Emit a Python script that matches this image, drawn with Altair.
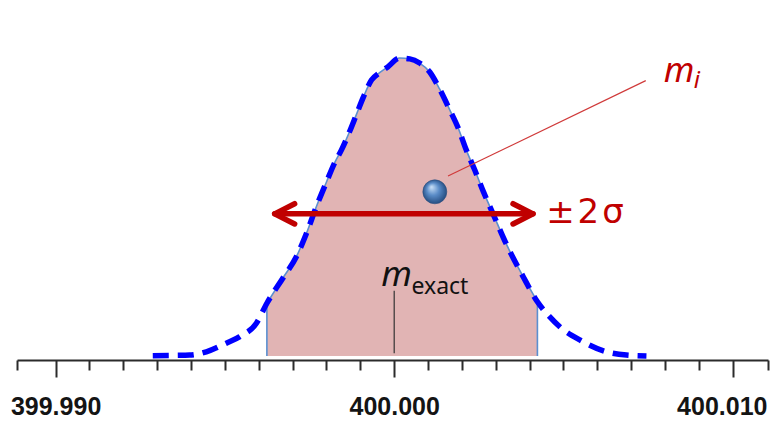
import altair as alt
import pandas as pd

# ---- mass axis (Da) ----
mass_domain = [399.98886, 400.01104]
tick_values = [399.98886,
               399.990, 399.991, 399.992, 399.993, 399.994, 399.995, 399.996,
               399.997, 399.998, 399.999, 400.000, 400.001, 400.002, 400.003,
               400.004, 400.005, 400.006, 400.007, 400.008, 400.009, 400.010,
               400.01104]

# ---- peak profile: mass vs relative intensity ----
curve_mass = [399.99287, 399.99352, 399.99396, 399.99445, 399.99504, 399.99544,
              399.99593, 399.99624, 399.99671, 399.99711, 399.99741, 399.99770,
              399.99800, 399.99824, 399.99844, 399.99869, 399.99888, 399.99908,
              399.99933, 399.99957, 399.99981, 400.00016, 400.00046, 400.00075,
              400.00105, 400.00134, 400.00164, 400.00189, 400.00213, 400.00238,
              400.00264, 400.00292, 400.00331, 400.00381, 400.00423, 400.00459,
              400.00489, 400.00548, 400.00627, 400.00686, 400.00745]
curve_int = [0.1, 0.2, 0.3, 1.4, 4.3, 6.5,
             11.0, 17.7, 26.1, 33.3, 41.2, 50.1,
             58.4, 64.8, 69.1, 75.5, 80.9, 86.6,
             92.6, 95.1, 97.0, 100.0, 99.7, 98.3,
             95.3, 89.6, 82.6, 76.5, 69.1, 62.4,
             55.0, 47.7, 37.6, 26.6, 18.2, 13.2,
             9.8, 5.4, 1.4, 0.3, 0.0]

# integration window (edges of the shaded region)
window_mass = [399.99624, 400.00423]
window_int = [17.7, 18.2]

# exact mass marker
exact_mass = 400.000
exact_int = [0.9, 21.9]

# measured mass m_i
mi_mass = 400.00120
mi_int = 55.1

# leader line from m_i to its label
leader_mass = [400.00159, 400.00743]
leader_int = [60.4, 92.4]

# ±2σ double arrow
arrow_mass = [399.99647, 400.00410]
arrow_int = 47.7
head_left_mass = [399.99706, 399.99647, 399.99706]
head_right_mass = [400.00351, 400.00410, 400.00351]
head_int = [51.1, 47.7, 44.3]

# annotation text
sigma_glyphs = ["±", "2", "σ"]
sigma_mass = [400.00491, 400.00573, 400.00646]
sigma_int = 44.6

RED = "#c00000"

is_major = ("abs(datum.value*1000 - round(datum.value*1000)) < 0.01 && "
            "round(datum.value*1000) % 10 == 0")

x_axis = alt.Axis(
    values=tick_values,
    labelExpr=f"({is_major}) ? format(datum.value, '.3f') : ''",
    tickSize={"condition": {"test": is_major, "value": 17}, "value": 10},
    labelOffset={"condition": {"test": "datum.value > 400.005", "value": -11}, "value": 0},
    labelFont="Liberation Sans",
    labelFontWeight="bold",
    labelFontSize=25,
    labelColor="#141414",
    labelPadding=17,
    labelOverlap=False,
    labelFlush=False,
    domainColor="#2b2b2b",
    domainWidth=2,
    tickColor="#2b2b2b",
    tickWidth=2,
    grid=False,
    title=None,
)
x_scale = alt.Scale(domain=mass_domain, nice=False, zero=False)
y_scale = alt.Scale(domain=[-1.342, 119.463], nice=False, zero=False)


def X(field="mass"):
    return alt.X(f"{field}:Q", scale=x_scale, axis=x_axis)


def Y(field="inten"):
    return alt.Y(f"{field}:Q", scale=y_scale, axis=None)


curve = pd.DataFrame({"mass": curve_mass, "inten": curve_int})
fill_df = curve[(curve.mass >= window_mass[0]) & (curve.mass <= window_mass[1])]

shade = alt.Chart(fill_df).mark_area(
    color="#e1b4b4", interpolate="monotone", opacity=1
).encode(x=X(), y=Y(), y2=alt.datum(0))

outline_top = alt.Chart(fill_df).mark_line(
    color="#5b8fd0", strokeWidth=1.6, interpolate="monotone"
).encode(x=X(), y=Y())

edges = alt.Chart(pd.DataFrame({"mass": window_mass, "top": window_int,
                                "base": [0, 0]})).mark_rule(
    color="#5b8fd0", strokeWidth=1.6
).encode(x=X(), y=Y("base"), y2="top:Q")

exact = alt.Chart(pd.DataFrame({"mass": [exact_mass], "lo": [exact_int[0]],
                                "hi": [exact_int[1]]})).mark_rule(
    color="#333333", strokeWidth=1.2
).encode(x=X(), y=Y("lo"), y2="hi:Q")

dashed = alt.Chart(curve).mark_line(
    color="#0000ff", strokeWidth=5.5, strokeDash=[16, 9], interpolate="monotone"
).encode(x=X(), y=Y())

leader = alt.Chart(pd.DataFrame({"mass": leader_mass, "inten": leader_int})).mark_line(
    color="#d03a3a", strokeWidth=1.2
).encode(x=X(), y=Y())

sphere_fill = alt.RadialGradient(
    gradient="radial",
    stops=[alt.GradientStop(offset=0, color="#c4dcf4"),
           alt.GradientStop(offset=0.45, color="#5a8cc8"),
           alt.GradientStop(offset=1, color="#1f4577")],
    x1=0.36, y1=0.3, r1=0.02, x2=0.5, y2=0.5, r2=0.55,
)
sphere = alt.Chart(pd.DataFrame({"mass": [mi_mass], "inten": [mi_int]})).mark_circle(
    fill=sphere_fill, size=576, opacity=1, stroke="#2b4f80", strokeWidth=0.6
).encode(x=X(), y=Y())

arrow_rows = (
    [{"part": "shaft", "seq": i, "mass": m, "inten": arrow_int} for i, m in enumerate(arrow_mass)]
    + [{"part": "left", "seq": i, "mass": m, "inten": v}
       for i, (m, v) in enumerate(zip(head_left_mass, head_int))]
    + [{"part": "right", "seq": i, "mass": m, "inten": v}
       for i, (m, v) in enumerate(zip(head_right_mass, head_int))]
)
arrow = alt.Chart(pd.DataFrame(arrow_rows)).mark_line(
    color=RED, strokeWidth=5.5, strokeCap="round", strokeJoin="round"
).encode(x=X(), y=Y(), detail="part:N", order="seq:Q")

sigma = alt.Chart(pd.DataFrame({"mass": sigma_mass, "inten": [sigma_int] * 3,
                                "t": sigma_glyphs})).mark_text(
    font="DejaVu Sans", fontSize=34, color=RED, align="center", baseline="alphabetic"
).encode(x=X(), y=Y(), text="t:N")

mi_m = alt.Chart(pd.DataFrame({"mass": [400.00796], "inten": [92.1], "t": ["m"]})).mark_text(
    font="Noto Sans", fontSize=35, fontStyle="italic", color=RED,
    align="left", baseline="alphabetic"
).encode(x=X(), y=Y(), text="t:N")

mi_i = alt.Chart(pd.DataFrame({"mass": [400.00885], "inten": [89.8], "t": ["i"]})).mark_text(
    font="Noto Sans", fontSize=24, fontStyle="italic", color=RED,
    align="left", baseline="alphabetic"
).encode(x=X(), y=Y(), text="t:N")

ex_m = alt.Chart(pd.DataFrame({"mass": [399.99962], "inten": [23.6], "t": ["m"]})).mark_text(
    font="Noto Sans", fontSize=35, fontStyle="italic", color="#111111",
    align="left", baseline="alphabetic"
).encode(x=X(), y=Y(), text="t:N")

ex_sub = alt.Chart(pd.DataFrame({"mass": [400.00051], "inten": [20.8], "t": ["exact"]})).mark_text(
    font="Noto Sans", fontSize=23, color="#111111",
    align="left", baseline="alphabetic"
).encode(x=X(), y=Y(), text="t:N")

chart = alt.layer(
    shade, outline_top, edges, exact, dashed, leader, sphere, arrow,
    sigma, mi_m, mi_i, ex_m, ex_sub
).properties(
    width=751,
    height=360,
    autosize=alt.AutoSizeParams(type="none"),
    padding={"left": 17, "top": 0, "right": 4, "bottom": 62},
    background="white",
).configure_view(stroke=None)

chart.save("out.html", embed_options={"renderer": "svg", "actions": False})
